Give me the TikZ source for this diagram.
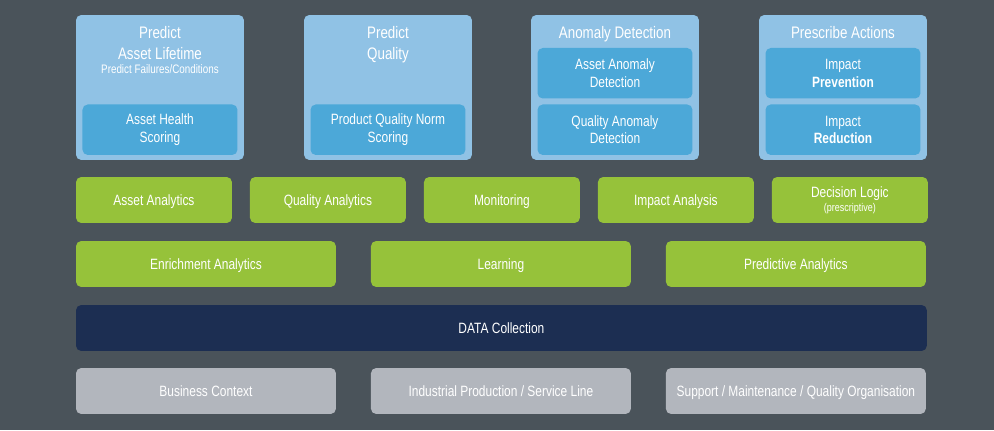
\documentclass[tikz,border=0pt]{standalone}
\usepackage{fontspec}
\setmainfont[FakeStretch=0.8]{Liberation Sans}
\usetikzlibrary{positioning}
\definecolor{slate}{HTML}{4A535A}
\definecolor{skyblue}{HTML}{90C2E5}
\definecolor{midblue}{HTML}{4CA8D8}
\definecolor{leaf}{HTML}{96C23A}
\definecolor{navy}{HTML}{1C2E52}
\definecolor{stone}{HTML}{B2B6BD}

\begin{document}
\begin{tikzpicture}[
  x=0.02cm,y=-0.02cm,
  every node/.style={font=\fontsize{8.5}{10}\selectfont,align=center,text=white,
                     inner sep=0pt,outer sep=0pt},
  usecase/.style={fill=skyblue,rounded corners=3pt,anchor=north west,
                  minimum width=3.36cm,minimum height=2.9cm},
  inner/.style={fill=midblue,rounded corners=3pt,
                minimum width=3.1cm,minimum height=1.01cm},
  title/.style={font=\fontsize{9.5}{12.2}\selectfont},
  small/.style={font=\fontsize{7}{8}\selectfont},
  oneline/.style={text height=8.2pt,text depth=1.8pt},
  green/.style={fill=leaf,rounded corners=3pt,
                minimum width=3.12cm,minimum height=0.92cm},
  widegreen/.style={fill=leaf,rounded corners=3pt,oneline,
                minimum width=5.2cm,minimum height=0.92cm},
  source/.style={fill=stone,rounded corners=3pt,oneline,
                minimum width=5.2cm,minimum height=0.92cm},
  node distance=0.36cm and 0.36cm
]
\fill[slate] (0,0) rectangle (994,430);
\useasboundingbox (0,0) rectangle (994,430);

% use cases
\node[usecase] (life) at (76,15) {};
\node[usecase] (qual) at (304,15) {};
\node[usecase] (anom) at (531,15) {};
\node[usecase] (pres) at (759,15) {};

\node[title,below=0.22cm of life.north] (lifet) {Predict\\Asset Lifetime};
\node[small,below=0.1cm of lifet] (lifes) {Predict Failures/Conditions};
\node[inner,above=0.1cm of life.south] (health) {Asset Health\\Scoring};

\node[title,below=0.22cm of qual.north] (qualt) {Predict\\Quality};
\node[inner,above=0.1cm of qual.south] (norm) {Product Quality Norm\\Scoring};

\node[title,below=0.22cm of anom.north] (anomt) {Anomaly Detection};
\node[inner,above=0.1cm of anom.south] (qanom) {Quality Anomaly\\Detection};
\node[inner,above=0.12cm of qanom] (aanom) {Asset Anomaly\\Detection};

\node[title,below=0.22cm of pres.north] (prest) {Prescribe Actions};
\node[inner,above=0.1cm of pres.south] (reduc) {Impact\\\textbf{Reduction}};
\node[inner,above=0.12cm of reduc] (preve) {Impact\\\textbf{Prevention}};

% analytics
\node[green,oneline,anchor=north west] (asset) at (76,177) {Asset Analytics};
\node[green,oneline,right=of asset] (qualan) {Quality Analytics};
\node[green,oneline,right=of qualan] (monit) {Monitoring};
\node[green,oneline,right=of monit] (impact) {Impact Analysis};
\node[green,right=of impact] (decis) {Decision Logic\\[-2pt]{\fontsize{6.4}{7}\selectfont (prescriptive)}};

\node[widegreen,anchor=north west] (enrich) at (76,241) {Enrichment Analytics};
\node[widegreen,right=0.7cm of enrich] (learn) {Learning};
\node[widegreen,right=0.7cm of learn] (predan) {Predictive Analytics};

% data
\node[fill=navy,rounded corners=3pt,anchor=north west,oneline,
      minimum width=17.02cm,minimum height=0.92cm] (data) at (76,305) {DATA Collection};

\node[source,anchor=north west] (busin) at (76,368) {Business Context};
\node[source,right=0.7cm of busin] (indus) {Industrial Production / Service Line};
\node[source,right=0.7cm of indus] (suppo) {Support / Maintenance / Quality Organisation};
\end{tikzpicture}
\end{document}
